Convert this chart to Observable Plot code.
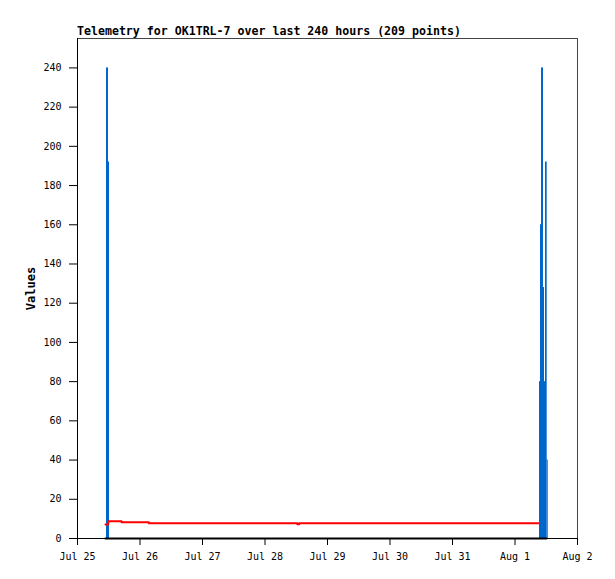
<!DOCTYPE html>
<html>
<head>
<meta charset="utf-8">
<script src="https://cdn.jsdelivr.net/npm/d3@7"></script>
<script src="https://cdn.jsdelivr.net/npm/@observablehq/plot@0.6"></script>
<style>
  html, body { margin: 0; padding: 0; background: #fff; }
  #wrap { position: relative; width: 615px; height: 579px; }
  #title { position: absolute; left: 77px; top: 24px; font-family: "DejaVu Sans Mono", monospace; font-weight: bold; font-size: 11.6px; letter-spacing: 0; color: #000; white-space: nowrap; }
</style>
</head>
<body>
<div id="wrap">
  <div id="title">Telemetry for OK1TRL-7 over last 240 hours (209 points)</div>
  <div id="chart"></div>
</div>
<script>
// Time origin: Jul 25 00:00 UTC; offsets in hours
const originMs = Date.UTC(2024, 6, 25);
const xDomainDays = ["2024-07-25", "2024-08-02"];

// Blue channel (bars): start hour, end hour, value
const blueStart = [11.14, 11.90, 177.41, 177.79, 178.18, 178.94, 179.33, 179.71, 180.36];
const blueEnd   = [11.90, 12.29, 177.79, 178.18, 178.94, 179.33, 179.71, 180.36, 180.75];
const blueValue = [240,   192,   80,     160,    240,    128,    80,     192,    40];

// Red channel (step line): hour, value
const redHour  = [10.75, 11.80, 16.90, 27.40, 84.40, 85.10, 177.0];
const redValue = [7.1,   8.8,   8.3,   7.8,   7.3,   7.8,   7.8];

// Black channel (zero line): hour, value
const blackHour  = [10.7, 180.1];
const blackValue = [0, 0];

const yTicks = [0, 20, 40, 60, 80, 100, 120, 140, 160, 180, 200, 220, 240];

const toDate = h => new Date(originMs + h * 3600e3);
const blue = blueStart.map((s, i) => ({x1: toDate(s), x2: toDate(blueEnd[i]), y: blueValue[i]}));
const red = redHour.map((h, i) => ({t: toDate(h), v: redValue[i]}));
const black = blackHour.map((h, i) => ({t: toDate(h), v: blackValue[i]}));
const fmt = d3.utcFormat("%b %-d");

const chart = Plot.plot({
  width: 615,
  height: 579,
  marginTop: 38,
  marginBottom: 41,
  marginLeft: 77,
  marginRight: 38,
  style: {fontFamily: "'DejaVu Sans Mono', monospace", fontSize: "10px", background: "#fff", color: "#000"},
  x: {type: "utc", domain: xDomainDays.map(d => new Date(d + "T00:00:00Z"))},
  y: {domain: [0, 255]},
  marks: [
    Plot.rect(blue, {x1: "x1", x2: "x2", y1: 0, y2: "y", fill: "#0066cc"}),
    Plot.line(red, {x: "t", y: "v", curve: "step-after", stroke: "#ff0000", strokeWidth: 2}),
    Plot.line(black, {x: "t", y: "v", stroke: "#000", strokeWidth: 2}),
    Plot.frame({stroke: "#444"}),
    Plot.ruleY([0], {stroke: "#000"}),
    Plot.ruleX([new Date(xDomainDays[0] + "T00:00:00Z")], {stroke: "#000"}),
    Plot.axisY({ticks: yTicks, tickSize: 8, tickPadding: 8, label: null}),
    Plot.axisX({ticks: d3.utcDay.every(1), tickFormat: fmt, tickSize: 7, tickPadding: 7, label: null}),
    Plot.text(["Values"], {frameAnchor: "left", dx: -46, rotate: -90, textAnchor: "middle", fontWeight: "bold", fontSize: 12, fill: "#000"})
  ]
});
document.getElementById("chart").appendChild(chart);
</script>
</body>
</html>
